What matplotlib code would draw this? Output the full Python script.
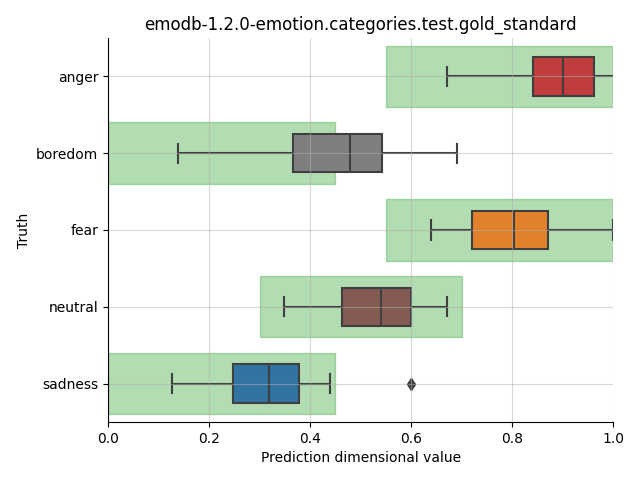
import matplotlib
matplotlib.use("Agg")
import matplotlib.pyplot as plt
from matplotlib.patches import Rectangle

categories = ["anger", "boredom", "fear", "neutral", "sadness"]
whislo = [0.671, 0.139, 0.640, 0.348, 0.127]
q1 = [0.841, 0.366, 0.721, 0.464, 0.248]
med = [0.901, 0.479, 0.803, 0.540, 0.319]
q3 = [0.962, 0.543, 0.871, 0.600, 0.378]
whishi = [1.03, 0.691, 1.0, 0.671, 0.440]
fliers = [[], [], [], [], [0.6]]
range_lo = [0.55, 0.0, 0.55, 0.3, 0.0]
range_hi = [1.0, 0.45, 1.0, 0.7, 0.45]
colors = ["#c03d3e", "#7f7f7f", "#e1812c", "#845b53", "#3274a1"]

fig = plt.figure(figsize=(6.4, 4.8), dpi=100)
ax = fig.add_axes([0.169, 0.121, 0.958 - 0.169, 0.921 - 0.121])

line_col = "#3f3f3f"
for i in range(len(categories)):
    ax.add_patch(Rectangle((range_lo[i], i - 0.4), range_hi[i] - range_lo[i], 0.8,
                           facecolor="tab:green", edgecolor="tab:green",
                           alpha=0.36, linewidth=1, zorder=0.5))

stats = []
for i, c in enumerate(categories):
    stats.append(dict(label=c, whislo=whislo[i], q1=q1[i], med=med[i],
                      q3=q3[i], whishi=whishi[i], fliers=fliers[i]))

bp = ax.bxp(stats, positions=range(len(categories)), vert=False, widths=0.5,
            patch_artist=True, manage_ticks=False,
            boxprops=dict(edgecolor=line_col, linewidth=1.5),
            whiskerprops=dict(color=line_col, linewidth=1.5),
            capprops=dict(color=line_col, linewidth=1.5),
            medianprops=dict(color=line_col, linewidth=1.5),
            flierprops=dict(marker="d", markerfacecolor=line_col,
                            markeredgecolor=line_col, markersize=6))
for patch, col in zip(bp["boxes"], colors):
    patch.set_facecolor(col)

ax.set_yticks(range(len(categories)))
ax.set_yticklabels(categories)
ax.set_ylim(len(categories) - 0.5, -0.5)
ax.set_xlim(0, 1.0)
ax.set_axisbelow(False)
ax.grid(True, alpha=0.5)
ax.spines["top"].set_visible(False)
ax.spines["right"].set_visible(False)
for s in ("left", "bottom"):
    ax.spines[s].set_zorder(10)
ax.set_title("emodb-1.2.0-emotion.categories.test.gold_standard")
ax.set_xlabel("Prediction dimensional value")
ax.set_ylabel("Truth")

fig.savefig("out.png", dpi=100)
